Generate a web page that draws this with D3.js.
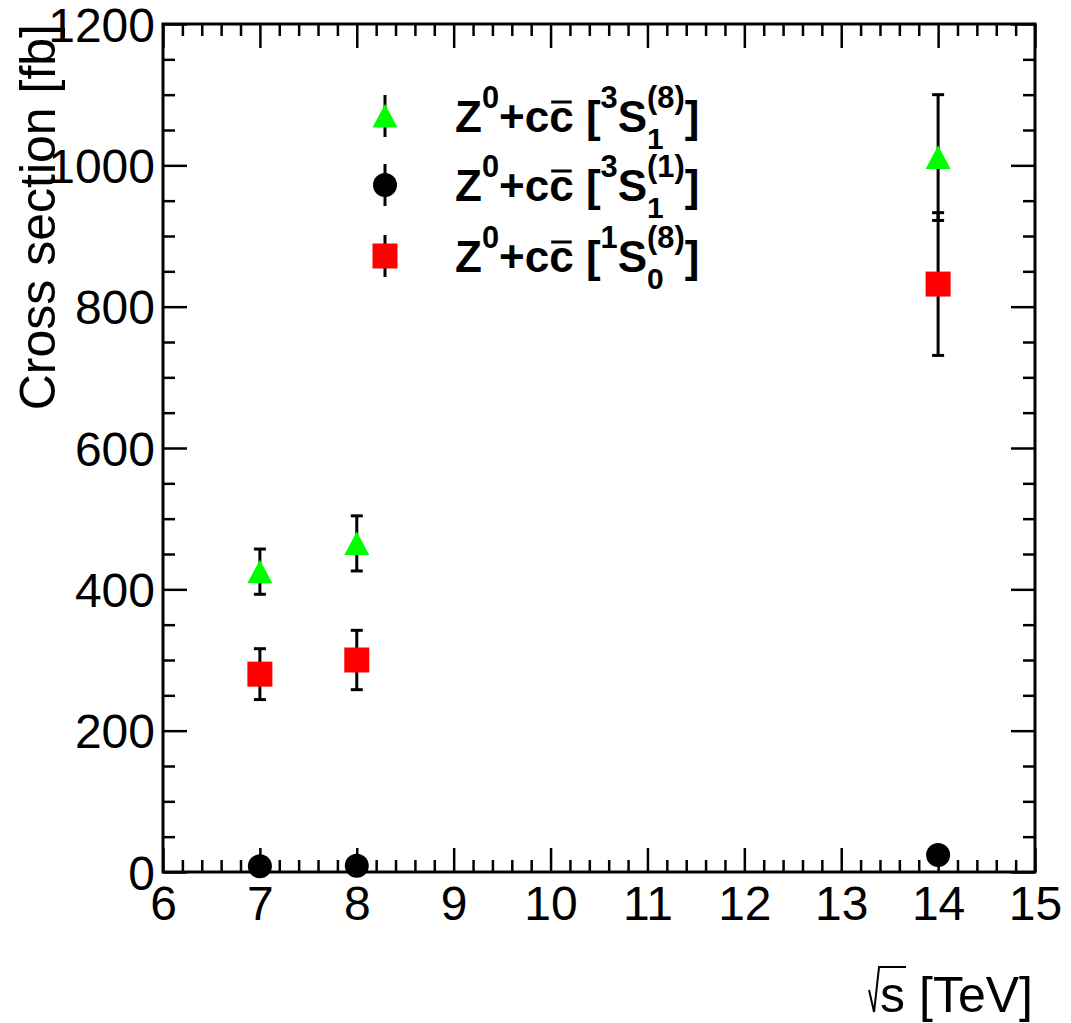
<!DOCTYPE html>
<html>
<head>
<meta charset="utf-8">
<script src="https://cdn.jsdelivr.net/npm/d3@7"></script>
<style>
  html, body { margin: 0; padding: 0; background: #fff; }
  svg { display: block; font-family: "Liberation Sans", Arial, Helvetica, sans-serif; }
</style>
</head>
<body>
<svg id="chart" width="1071" height="1023"></svg>
<script>
// ---- data ----
const energies = [7, 8, 14];
const octet3S1 = [425, 465, 1011];
const octet3S1Err = [32, 39, 89];
const singlet3S1 = [8, 9, 24];
const singlet3S1Err = [2, 2, 3];
const octet1S0 = [280, 300, 832];
const octet1S0Err = [36, 42, 101];
const xTicks = [6, 7, 8, 9, 10, 11, 12, 13, 14, 15];
const yTicks = [0, 200, 400, 600, 800, 1000, 1200];
const xTitle = "[TeV]";
const yTitle = "Cross section [fb]";

const series = [
  { name: "3S1_8", values: octet3S1, errs: octet3S1Err, color: "#00ff00", shape: "triangle",
    label: ["3", "1", "(8)"] },
  { name: "3S1_1", values: singlet3S1, errs: singlet3S1Err, color: "#000000", shape: "circle",
    label: ["3", "1", "(1)"] },
  { name: "1S0_8", values: octet1S0, errs: octet1S0Err, color: "#ff0000", shape: "square",
    label: ["1", "0", "(8)"] }
];

// ---- layout ----
const svg = d3.select("#chart");
const L = 163, R = 1035, T = 24, B = 872;
const x = d3.scaleLinear().domain([6, 15]).range([L, R]);
const y = d3.scaleLinear().domain([0, 1200]).range([B, T]);

const xMinor = d3.range(6, 15.001, 0.2).map(v => +v.toFixed(1)).filter(v => !xTicks.includes(v));
const yMinor = d3.range(0, 1200.1, 50).filter(v => !yTicks.includes(v));

const tickFont = 48;
function styleAxis(g) {
  g.select(".domain").remove();
  g.selectAll(".tick line").attr("stroke", "#000").attr("stroke-width", 2.5);
  g.selectAll("text").attr("font-size", tickFont).attr("fill", "#000")
    .attr("font-family", "Liberation Sans, Arial, sans-serif");
}

// bottom
svg.append("g").attr("transform", `translate(0,${B})`)
  .call(d3.axisBottom(x).tickValues(xTicks).tickSize(-24).tickPadding(14).tickFormat(d3.format("d")))
  .call(styleAxis);
svg.append("g").attr("transform", `translate(0,${B})`)
  .call(d3.axisBottom(x).tickValues(xMinor).tickSize(-12).tickFormat(""))
  .call(styleAxis);
// top
svg.append("g").attr("transform", `translate(0,${T})`)
  .call(d3.axisTop(x).tickValues(xTicks).tickSize(-24).tickFormat(""))
  .call(styleAxis);
svg.append("g").attr("transform", `translate(0,${T})`)
  .call(d3.axisTop(x).tickValues(xMinor).tickSize(-12).tickFormat(""))
  .call(styleAxis);
// left
svg.append("g").attr("transform", `translate(${L},0)`)
  .call(d3.axisLeft(y).tickValues(yTicks).tickSize(-24).tickPadding(8).tickFormat(d3.format("d")))
  .call(styleAxis)
  .call(g => g.selectAll("text").attr("dy", "0.36em"));
svg.append("g").attr("transform", `translate(${L},0)`)
  .call(d3.axisLeft(y).tickValues(yMinor).tickSize(-12).tickFormat(""))
  .call(styleAxis);
// right
svg.append("g").attr("transform", `translate(${R},0)`)
  .call(d3.axisRight(y).tickValues(yTicks).tickSize(-24).tickFormat(""))
  .call(styleAxis);
svg.append("g").attr("transform", `translate(${R},0)`)
  .call(d3.axisRight(y).tickValues(yMinor).tickSize(-12).tickFormat(""))
  .call(styleAxis);

// frame
svg.append("rect").attr("x", L).attr("y", T).attr("width", R - L).attr("height", B - T)
  .attr("fill", "none").attr("stroke", "#000").attr("stroke-width", 3);

// ---- markers ----
function markerPath(shape) {
  if (shape === "triangle") return "M0,-12L12.5,11.5L-12.5,11.5Z";
  if (shape === "square") return "M-12.5,-12.5H12.5V12.5H-12.5Z";
  return d3.symbol(d3.symbolCircle, Math.PI * 12 * 12)();
}

const plot = svg.append("g");
series.forEach(s => {
  const pts = energies.map((e, i) => ({ e, v: s.values[i], err: s.errs[i] }));
  const g = plot.append("g");
  g.selectAll("line.err").data(pts).join("line")
    .attr("x1", d => x(d.e)).attr("x2", d => x(d.e))
    .attr("y1", d => y(d.v + d.err)).attr("y2", d => y(d.v - d.err))
    .attr("stroke", "#000").attr("stroke-width", 3);
  g.selectAll("line.capT").data(pts).join("line")
    .attr("x1", d => x(d.e) - 6).attr("x2", d => x(d.e) + 6)
    .attr("y1", d => y(d.v + d.err)).attr("y2", d => y(d.v + d.err))
    .attr("stroke", "#000").attr("stroke-width", 3);
  g.selectAll("line.capB").data(pts).join("line")
    .attr("x1", d => x(d.e) - 6).attr("x2", d => x(d.e) + 6)
    .attr("y1", d => y(d.v - d.err)).attr("y2", d => y(d.v - d.err))
    .attr("stroke", "#000").attr("stroke-width", 3);
});
series.forEach(s => {
  const pts = energies.map((e, i) => ({ e, v: s.values[i] }));
  plot.append("g").selectAll("path").data(pts).join("path")
    .attr("d", markerPath(s.shape))
    .attr("transform", d => `translate(${x(d.e)},${y(d.v)})`)
    .attr("fill", s.color);
});

// ---- legend ----
const legFont = 44;
const legX = 385, legTextX = 455;
const legRows = [116, 185, 256];

function layoutLabel(g, x0, base, parts) {
  let cx = x0;
  let pendingSubWidth = 0;
  parts.forEach(p => {
    let size = legFont, dy = 0;
    if (p.kind === "sup") { size = legFont * 0.7; dy = -24; }
    if (p.kind === "sub") { size = legFont * 0.68; dy = 17; }
    const t = g.append("text").attr("x", cx).attr("y", base + dy)
      .attr("font-size", size).attr("font-weight", "bold").attr("fill", "#000")
      .style("white-space", "pre").text(p.t);
    const w = t.node().getComputedTextLength();
    if (p.kind === "over") {
      g.append("line").attr("x1", cx + 2).attr("x2", cx + w - 2)
        .attr("y1", base - 30).attr("y2", base - 30)
        .attr("stroke", "#000").attr("stroke-width", 3);
    }
    if (p.stack) { pendingSubWidth = w; }
    else { cx += Math.max(w, pendingSubWidth); pendingSubWidth = 0; }
  });
}

const leg = svg.append("g");
series.forEach((s, i) => {
  const cy = legRows[i];
  leg.append("line").attr("x1", legX).attr("x2", legX)
    .attr("y1", cy - 21).attr("y2", cy + 21).attr("stroke", "#000").attr("stroke-width", 3);
  leg.append("path").attr("d", markerPath(s.shape))
    .attr("transform", `translate(${legX},${cy})`).attr("fill", s.color);
  const [pre, sub, sup] = s.label;
  layoutLabel(leg, legTextX, cy + 16, [
    { t: "Z" }, { t: "0", kind: "sup" }, { t: "+c" }, { t: "c", kind: "over" }, { t: " [" },
    { t: pre, kind: "sup" }, { t: "S" }, { t: sub, kind: "sub", stack: true },
    { t: sup, kind: "sup" }, { t: "]" }
  ]);
});

// ---- axis titles ----
const titleFont = 50;
svg.append("text")
  .attr("transform", `translate(55,${T}) rotate(-90)`)
  .attr("text-anchor", "end").attr("font-size", titleFont).attr("fill", "#000")
  .text(yTitle);

const xt = svg.append("text").attr("x", 1033).attr("y", 1012).attr("text-anchor", "end")
  .attr("font-size", titleFont).attr("fill", "#000").text(xTitle);
const xtW = xt.node().getComputedTextLength();
const sT = svg.append("text").attr("x", 1033 - xtW - 14).attr("y", 1012).attr("text-anchor", "end")
  .attr("font-size", titleFont).attr("fill", "#000").text("s");
const sW = sT.node().getComputedTextLength();
const sx0 = 1033 - xtW - 14 - sW;
svg.append("path")
  .attr("d", `M${sx0 - 11},${990}L${sx0 - 6},${1012}L${sx0 - 1},${967}H${sx0 + sW + 1}`)
  .attr("fill", "none").attr("stroke", "#000").attr("stroke-width", 2);
</script>
</body>
</html>
